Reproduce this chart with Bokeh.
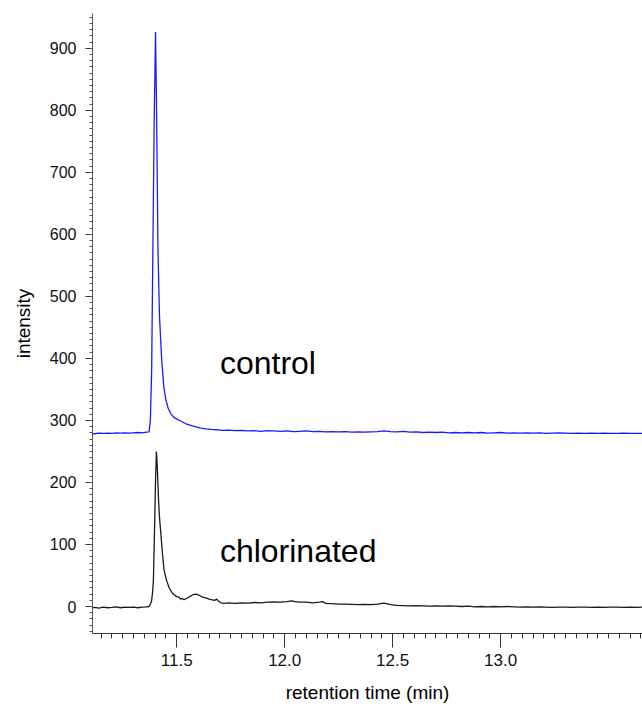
from bokeh.plotting import figure
from bokeh.models import FixedTicker, Range1d, Label, NumeralTickFormatter
from bokeh.embed import file_html
from bokeh.resources import INLINE
import numpy as np

# ---------------- data ----------------
ctrl_t = [11.10, 11.12, 11.14, 11.16, 11.18, 11.20, 11.22, 11.24, 11.26, 11.28,
          11.30, 11.32, 11.34, 11.36, 11.372, 11.378, 11.384, 11.390, 11.396, 11.402,
          11.407, 11.413, 11.420, 11.430, 11.440, 11.450, 11.460, 11.472, 11.490, 11.518,
          11.540, 11.565, 11.590, 11.611, 11.635, 11.660, 11.685, 11.71, 11.74, 11.77,
          11.80, 11.83, 11.86, 11.89, 11.92, 11.95, 11.98, 12.01, 12.04, 12.07,
          12.10, 12.13, 12.16, 12.19, 12.22, 12.25, 12.28, 12.31, 12.34, 12.37,
          12.40, 12.43, 12.46, 12.49, 12.52, 12.55, 12.58, 12.61, 12.64, 12.67,
          12.70, 12.73, 12.76, 12.79, 12.82, 12.85, 12.88, 12.91, 12.94, 12.97,
          13.00, 13.03, 13.06, 13.09, 13.12, 13.15, 13.18, 13.21, 13.24, 13.27,
          13.30, 13.33, 13.36, 13.39, 13.42, 13.45, 13.48, 13.51, 13.54, 13.57,
          13.60, 13.63, 13.66]
ctrl_v = [279, 278.5, 279.5, 279, 279.5, 279, 280, 279.5, 280, 279.5,
          280, 280.5, 280, 281, 281.5, 300, 380, 590, 790, 926,
          790, 580, 470, 400, 355, 333, 320, 311, 304, 299,
          295, 292, 289.5, 287.5, 286.5, 285.5, 285, 284, 284.5, 283.5,
          284, 283, 283.5, 282.5, 283.5, 283, 282.5, 283, 282, 282.5,
          283, 282, 282.5, 281.5, 282, 281.5, 282, 281, 281.5, 281,
          281.5, 282, 283, 282, 281.5, 282.5, 281, 281.5, 280.5, 281,
          280.5, 281, 280, 280.5, 280, 280.5, 280, 280.5, 279.5, 280,
          280.5, 279.5, 280, 279.5, 280, 279.5, 280, 279, 279.5, 280,
          279.5, 279, 279.5, 279, 279.5, 279, 279.5, 279, 279, 279.5,
          279, 279, 279]

chl_t = [11.10, 11.12, 11.14, 11.16, 11.18, 11.20, 11.22, 11.24, 11.26, 11.28,
         11.30, 11.32, 11.34, 11.36, 11.372, 11.378, 11.383, 11.388, 11.392, 11.398,
         11.402, 11.406, 11.410, 11.416, 11.421, 11.426, 11.434, 11.441, 11.452, 11.464,
         11.475, 11.487, 11.500, 11.510, 11.518, 11.526, 11.534, 11.545, 11.56, 11.575,
         11.59, 11.605, 11.62, 11.635, 11.65, 11.66, 11.675, 11.685, 11.695, 11.705,
         11.72, 11.74, 11.77, 11.80, 11.83, 11.86, 11.89, 11.92, 11.95, 11.98,
         12.01, 12.03, 12.05, 12.07, 12.10, 12.13, 12.16, 12.175, 12.19, 12.22,
         12.25, 12.28, 12.31, 12.34, 12.37, 12.40, 12.43, 12.46, 12.49, 12.52,
         12.55, 12.58, 12.61, 12.64, 12.67, 12.70, 12.73, 12.76, 12.79, 12.82,
         12.85, 12.88, 12.91, 12.94, 12.97, 13.00, 13.03, 13.06, 13.09, 13.12,
         13.15, 13.18, 13.21, 13.24, 13.27, 13.30, 13.33, 13.36, 13.39, 13.42,
         13.45, 13.48, 13.51, 13.54, 13.57, 13.60, 13.63, 13.66]
chl_v = [-2, -1.5, -2.5, -1, -2, -1.5, -0.5, -2, -1, -1.5,
         -1, -2, -1, -0.5, 0, 4, 8, 22, 42, 135,
         205, 250, 225, 170, 140, 120, 85, 60, 43, 31,
         24, 19, 16, 15, 12, 13, 11, 13, 16, 19,
         20, 18, 15, 14, 12, 11, 10, 12, 8, 6,
         5, 6, 5, 6, 5.5, 6.5, 6, 7, 7.5, 7,
         8, 9, 8, 7, 7, 6, 7, 8, 5, 4.5,
         4, 4, 3.5, 3, 3.5, 3, 4, 5.5, 3, 2,
         1.5, 1, 1.5, 1, 0.5, 1, 0.5, 1, 0.5, 0,
         0.5, -0.5, 0, -0.5, 0, -0.5, 0, -0.5, -1, -0.5,
         -1, -0.5, -1, -1.5, -1, -1, -1.5, -1, -1, -1.5,
         -1, -1.5, -1, -1, -1.5, -1, -1.5, -1]

x_major = [11.5, 12.0, 12.5, 13.0]
y_major = [0, 100, 200, 300, 400, 500, 600, 700, 800, 900]

labels = ["control", "chlorinated"]
label_t = [11.70, 11.70]
label_v = [392, 90]

FONT = "Liberation Sans"

p = figure(width=642, height=720, output_backend="svg", toolbar_location=None,
           x_range=Range1d(11.11, 13.657), y_range=Range1d(-43.5, 956),
           min_border_left=92, min_border_right=0, min_border_top=13, min_border_bottom=87)
p.outline_line_color = None
p.xgrid.visible = False
p.ygrid.visible = False
p.background_fill_color = "white"

p.line(ctrl_t, ctrl_v, line_color="#1a1aff", line_width=1.3)
p.line(chl_t, chl_v, line_color="#1a1a1a", line_width=1.3)

for txt, tx, ty in zip(labels, label_t, label_v):
    p.add_layout(Label(x=tx, y=ty, text=txt, text_font=FONT, text_font_size="32px",
                       text_baseline="middle", text_align="left", text_color="black"))

# x axis
xa = p.xaxis[0]
xa.ticker = FixedTicker(ticks=x_major,
                        minor_ticks=list(np.round(np.arange(11.15, 13.66, 0.05), 2)))
xa.formatter = NumeralTickFormatter(format="0.0")
xa.axis_label = "retention time (min)"
xa.axis_label_text_font = FONT
xa.axis_label_text_font_size = "19px"
xa.axis_label_text_font_style = "normal"
xa.axis_label_text_color = "black"
xa.axis_label_standoff = 13
xa.major_label_text_font = FONT
xa.major_label_text_font_size = "17px"
xa.major_label_text_color = "#111111"
xa.major_label_standoff = 6
xa.major_tick_out = 14
xa.major_tick_in = 0
xa.minor_tick_out = 5
xa.minor_tick_in = 0
xa.axis_line_color = "#333333"
xa.major_tick_line_color = "#333333"
xa.minor_tick_line_color = "#333333"

# y axis
ya = p.yaxis[0]
ya.ticker = FixedTicker(ticks=y_major, minor_ticks=list(range(-40, 960, 10)))
ya.axis_label = "intensity"
ya.axis_label_text_font = FONT
ya.axis_label_text_font_size = "19px"
ya.axis_label_text_font_style = "normal"
ya.axis_label_text_color = "black"
ya.axis_label_standoff = 13
ya.major_label_text_font = FONT
ya.major_label_text_font_size = "16px"
ya.major_label_text_color = "#111111"
ya.major_label_standoff = 9
ya.major_tick_out = 7
ya.major_tick_in = 0
ya.minor_tick_out = 3
ya.minor_tick_in = 0
ya.axis_line_color = "#555555"
ya.major_tick_line_color = "#333333"
ya.minor_tick_line_color = "#555555"

open("out.html", "w").write(file_html(p, INLINE))
